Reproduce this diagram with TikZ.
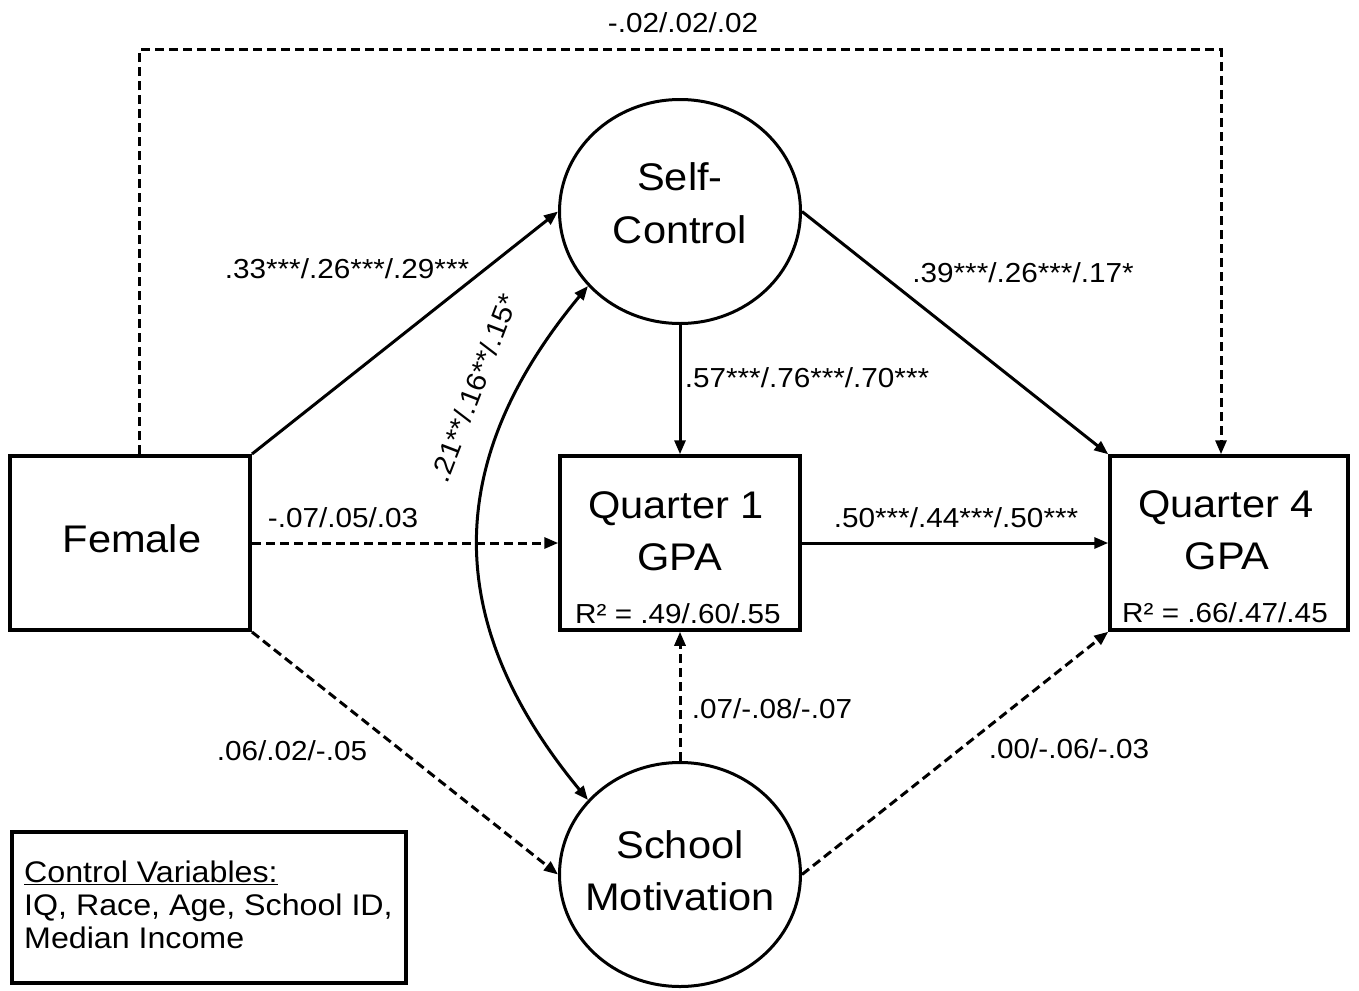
\documentclass[tikz,border=0pt]{standalone}
\usepackage{fontspec}
\setmainfont{Liberation Sans}[FakeStretch=1.08]
\usetikzlibrary{arrows.meta,shapes.geometric}
\begin{document}
\begin{tikzpicture}[x=1pt,y=-1pt,
 box/.style={draw,line width=3.5pt,minimum width=240pt,minimum height=174pt,inner sep=0pt},
 latent/.style={draw,ellipse,line width=3pt,minimum width=241pt,minimum height=224pt,inner sep=0pt},
 big/.style={font=\fontsize{38.5}{52}\selectfont,anchor=base,inner sep=0pt},
 lab/.style={font=\fontsize{27.5}{30}\selectfont,anchor=base,inner sep=0pt},
 rtwo/.style={font=\fontsize{27.5}{30}\selectfont,anchor=base,inner sep=0pt},
 ctl/.style={font=\fontsize{29.8}{30}\selectfont,anchor=base west,inner sep=0pt},
 arr/.style={line width=3pt,-{Triangle[length=14pt,width=11pt]}},
 darr/.style={arr,dash pattern=on 9pt off 5pt},
]
\useasboundingbox (0,0) rectangle (1359,990);
\fill[white] (0,0) rectangle (1359,990);
% nodes
\node[box,line width=4pt] (F) at (130,543) {};
\node[big] (Ft) at (132,552) {Female};
\node[box] (Q1) at (680,543) {};
\node[big] (Q1a) at (676,518) {Quarter 1};
\node[big] (Q1b) at (680,570) {GPA};
\node[rtwo] (Q1r) at (678,623) {R² = .49/.60/.55};
\node[box,minimum width=238pt] (Q4) at (1229,543) {};
\node[big] (Q4a) at (1226,517) {Quarter 4};
\node[big] (Q4b) at (1227,569) {GPA};
\node[rtwo] (Q4r) at (1225,622) {R² = .66/.47/.45};
\node[latent] (sc) at (680,211.5) {};
\node[big] (sca) at (680,190) {Self-};
\node[big] (scb) at (680,243) {Control};
\node[latent] (sm) at (680,874.5) {};
\node[big] (sma) at (680,858) {School};
\node[big] (smb) at (680,910) {Motivation};
\node[draw,line width=3.5pt,minimum width=394pt,minimum height=151pt,inner sep=0pt] (cv) at (209,907.5) {};
\node[ctl] (cv1) at (24,882) {\underline{Control Variables:}};
\node[ctl] (cv2) at (24,915) {IQ, Race, Age, School ID,};
\node[ctl] (cv3) at (24,948) {Median Income};
% connectors
\coordinate (tr) at (1221,50);
\draw[darr] ([xshift=9pt]F.north) |- (tr) -- ([xshift=-8pt]Q4.north);
\draw[arr] (F.north east) -- (sc.west);
\draw[arr] (sc.east) -- (Q4.north west);
\draw[arr] (sc.south) -- (Q1.north);
\draw[darr] (F.east) -- (Q1.west);
\draw[arr] (Q1.east) -- (Q4.west);
\draw[darr] (F.south east) -- (sm.west);
\draw[darr] (sm.north) -- (Q1.south);
\draw[darr] (sm.east) -- (Q4.south west);
\draw[line width=3pt,{Triangle[length=14pt,width=11pt]}-{Triangle[length=14pt,width=11pt]}] (sc.219) .. controls (442,462) and (442,623) .. (sm.141);
% labels
\node[lab] (l0) at (683,33) {-.02/.02/.02};
\node[lab] (l1) at (347,278) {.33***/.26***/.29***};
\node[lab] (l2) at (1023,282) {.39***/.26***/.17*};
\node[lab] (l3) at (807,387) {.57***/.76***/.70***};
\node[lab] (l4) at (343,527) {-.07/.05/.03};
\node[lab] (l5) at (956,527) {.50***/.44***/.50***};
\node[lab] (l6) at (292,760) {.06/.02/-.05};
\node[lab] (l7) at (772,718) {.07/-.08/-.07};
\node[lab] (l8) at (1069,758) {.00/-.06/-.03};
\node[lab,anchor=center,rotate=69] (l9) at (474,388) {.21**/.16**/.15*};
\end{tikzpicture}
\end{document}
